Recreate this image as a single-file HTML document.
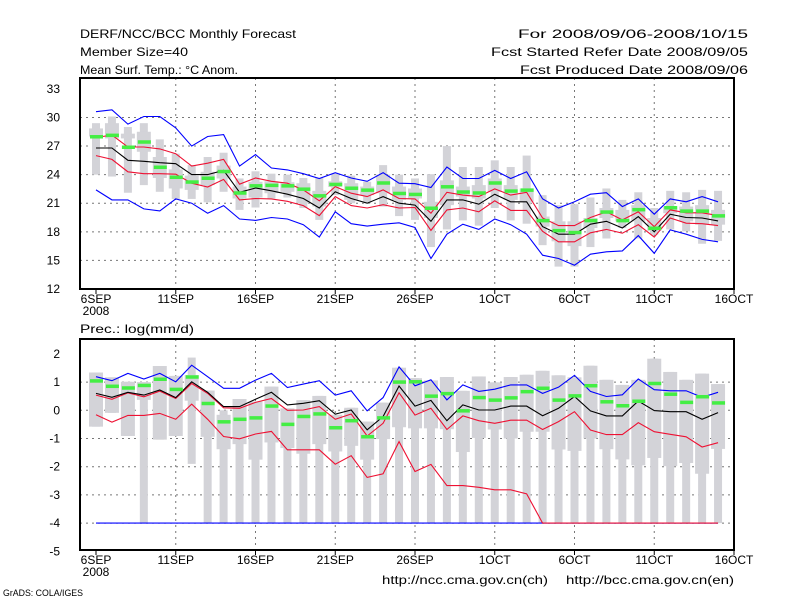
<!DOCTYPE html>
<html><head><meta charset="utf-8"><style>
body{margin:0;background:#fff;width:800px;height:600px;overflow:hidden}
svg text{font-family:"Liberation Sans",sans-serif;font-size:12px;fill:#000}
</style></head><body>
<svg id="chart" width="800" height="600" viewBox="0 0 800 600" xmlns="http://www.w3.org/2000/svg">
<rect width="800" height="600" fill="#fff"/>
<text x="80" y="38" textLength="216" lengthAdjust="spacingAndGlyphs">DERF/NCC/BCC Monthly Forecast</text>
<text x="80" y="56" textLength="108" lengthAdjust="spacingAndGlyphs">Member Size=40</text>
<text x="80" y="74" textLength="158" lengthAdjust="spacingAndGlyphs">Mean Surf. Temp.: °C Anom.</text>
<text x="748" y="38" text-anchor="end" textLength="230" lengthAdjust="spacingAndGlyphs">For 2008/09/06-2008/10/15</text>
<text x="748" y="56" text-anchor="end" textLength="257" lengthAdjust="spacingAndGlyphs">Fcst Started Refer Date 2008/09/05</text>
<text x="748" y="74" text-anchor="end" textLength="228" lengthAdjust="spacingAndGlyphs">Fcst Produced Date 2008/09/06</text>
<text x="80" y="333" textLength="114" lengthAdjust="spacingAndGlyphs">Prec.: log(mm/d)</text>
<text x="382" y="584" textLength="166" lengthAdjust="spacingAndGlyphs">http://ncc.cma.gov.cn(ch)</text>
<text x="566" y="584" textLength="168" lengthAdjust="spacingAndGlyphs">http://bcc.cma.gov.cn(en)</text>
<text x="3" y="596" style="font-size:9px" textLength="80" lengthAdjust="spacingAndGlyphs">GrADS: COLA/IGES</text>
<g id="top"></g><g id="bot"></g>
</svg>
<script>
const dayLabels=["6SEP","11SEP","16SEP","21SEP","26SEP","1OCT","6OCT","11OCT","16OCT"];
const tTicks=[12,15,18,21,24,27,30,33];
const pTicks=[-5,-4,-3,-2,-1,0,1,2];
const tBlueHi=[30.6,30.8,29.3,30.1,30.1,28.9,27.0,28.0,28.2,24.9,26.1,24.7,24.5,24.1,23.6,24.2,23.65,23.3,24.2,23.1,23.05,22.65,24.8,23.6,23.6,24.45,23.6,24.3,21.45,20.5,21.15,21.95,22.1,20.65,21.45,19.85,21.45,21.15,21.7,21.15];
const tBlueLo=[22.4,21.35,21.35,20.4,20.2,21.45,21,19.95,20.75,19.35,19.2,19.5,19.35,18.75,17.45,20.1,18.85,18.6,18.8,18.95,18.45,15.2,17.75,18.8,18.25,19.35,18.75,17.75,15.55,15.2,14.5,15.65,15.9,16,17.6,15.75,18.2,17.75,17.2,16.95];
const tRedHi=[27.9,28.15,26.9,26.9,26.7,26.2,24.9,25.2,25.6,23,23.65,23.3,23.1,22.4,21.25,22.75,22.05,21.7,22.4,21.5,21.45,19.95,22.15,21.85,21.7,22.5,21.85,22.15,19.45,18.65,18.65,19.5,20.1,19.25,20.1,18.55,20.3,20,20,19.7];
const tMean=[26.8,26.8,25.5,25.4,25.25,25.15,24,24,24.45,22.15,22.6,22.3,21.95,21.5,20.5,22.2,21.5,21,21.7,21,20.8,19.1,21.35,21.35,20.9,21.95,21.15,21.15,18.55,17.75,17.75,18.8,19.1,18.4,19.6,18,19.85,19.5,19.45,19.15];
const tRedLo=[26.0,25.6,24.3,24.1,24.1,24.05,23.1,22.7,23.5,21.35,21.5,21.45,21.2,20.75,19.7,21.7,20.75,20.5,20.85,20.5,20.55,18.15,20.3,20.5,20.1,21.25,20.25,20.25,18.05,16.95,16.95,17.9,18.25,17.85,18.75,17.45,19.45,18.9,18.85,18.65];
const tGreen=[28,28.15,26.9,27.45,24.8,23.75,23.25,23.65,24.35,22.1,22.85,22.9,22.85,22.5,21.8,23.0,22.6,22.4,23.15,22.05,21.95,20.5,22.75,22.2,22.1,23.15,22.3,22.4,19.2,18.15,17.95,19.2,20.1,19.2,20.35,18.4,20.55,20.2,20.2,19.7];
const tMax=[29.4,30.1,29,29.4,27.7,26.2,25,25.85,26.3,23.6,24.35,24.1,24,23.65,23.65,24.1,23.9,23.25,25,24,23.6,24.05,27,24.8,24.8,25.5,24.8,26,21.85,20.8,20.9,21.6,22.55,21.35,22.15,20.5,22.3,22.15,22.4,22.3];
const tMin=[24,23.8,22.1,22.9,22.2,21.45,21.45,21.1,22.2,20.3,20.55,21.5,21.6,20.5,19.25,21.85,21,21,20.65,19.65,19.25,16.4,18.25,19.2,18.65,20.5,19.2,18.85,16.6,14.35,14.35,16.4,17.3,18.4,17.3,17.7,18.25,18.05,16.75,17.05];
const tQ3=[28.85,29.4,28.3,28.5,25.85,24.55,23.9,24.3,24.95,22.75,23.25,23.3,23.2,23.1,22.3,23.3,23.1,22.75,24,22.75,22.55,21.15,23.4,22.75,22.9,23.6,22.9,22.55,19.6,19.1,19.1,19.45,20.5,20.3,20.8,19.45,20.65,20.65,20.8,20.3];
const tQ1=[28,27.8,27.8,26.4,23.65,22.55,22.4,22.9,23.6,21.5,21.6,22.05,22.2,21,20.65,22.7,21.35,21.85,22.05,21.35,21.5,19.45,20.8,21.7,21.5,22.2,21.35,21.15,18.55,17,16.5,18.4,19.45,19.1,19.1,18.1,19.95,19.1,18.75,18.75];
const pBlueHi=[1.19,1.05,1.31,1.11,1.31,1.01,1.6,1.19,0.78,0.78,1.07,1.31,0.81,0.93,1.05,0.54,0.69,-0.02,0.45,1.54,0.87,1.08,0.37,0.9,0.67,0.75,0.9,0.9,0.6,0.82,1.24,0.67,0.49,0.55,1.11,0.73,0.69,0.69,0.46,0.64];
const pBlueLo=[-4,-4,-4,-4,-4,-4,-4,-4,-4,-4,-4,-4,-4,-4,-4,-4,-4,-4,-4,-4,-4,-4,-4,-4,-4,-4,-4,-4,-4,-4,-4,-4,-4,-4,-4,-4,-4,-4,-4,-4];
const pMean=[0.6,0.46,0.64,0.54,0.72,0.45,1.01,0.64,0.13,0.13,0.39,0.64,0.19,0.25,0.34,-0.14,0.01,-0.69,-0.22,0.86,0.15,0.35,-0.37,0.19,0.01,0.01,0.15,0.15,-0.19,0.07,0.49,-0.02,-0.2,-0.2,0.33,-0.01,-0.05,-0.05,-0.32,-0.08];
const pRedHi=[0.54,0.39,0.62,0.48,0.68,0.42,0.95,0.6,0.09,0.07,0.28,0.42,0,0.01,0.13,-0.32,-0.13,-0.91,-0.46,0.62,-0.17,0.07,-0.68,-0.2,-0.37,-0.46,-0.35,-0.35,-0.68,-0.4,-0.05,-0.7,-0.86,-0.86,-0.44,-0.76,-0.85,-0.94,-1.3,-1.15];
const pRedLo=[-0.16,-0.42,-0.18,-0.18,-0.11,-0.32,0.22,-0.32,-0.93,-1.01,-0.84,-0.75,-1.4,-1.4,-1.4,-1.91,-1.61,-2.38,-2.25,-1.11,-2.17,-1.92,-2.67,-2.67,-2.73,-2.82,-2.82,-2.96,-4,-4,-4,-4,-4,-4,-4,-4,-4,-4,-4,-4];
const pGreen=[1.05,0.86,0.8,0.89,1.11,0.75,1.19,0.25,-0.4,-0.31,-0.26,0.16,-0.49,-0.21,-0.12,-0.61,-0.36,-0.93,-0.26,1.01,1.02,0.51,0.6,-0.01,0.46,0.37,0.45,0.67,0.79,0.37,0.52,0.88,0.31,0.17,0.33,0.96,0.58,0.29,0.49,0.27];
const pMax=[1.34,1.17,1.01,1.0,1.57,1.22,1.87,0.7,0.0,0.4,0.31,0.84,0.07,0.36,0.51,-0.16,0.09,-0.4,0.27,1.51,1.14,1.06,1.18,0.69,1.2,0.99,1.18,1.26,1.4,1.24,1.17,1.58,1.08,0.9,1.08,1.83,1.36,1.08,1.3,0.93];
const pMin=[-0.58,-0.09,-0.91,-4,-1.04,-0.91,-1.9,-4,-4,-4,-4,-4,-4,-4,-4,-4,-4,-4,-4,-4,-4,-4,-4,-4,-4,-4,-4,-4,-4,-4,-4,-4,-4,-4,-4,-4,-4,-4,-4,-4];
const pQ3=[1.34,1.17,1.01,1.0,1.57,1.22,1.25,0.7,-0.16,0.4,0.31,0.84,0.07,0.36,0.51,-0.16,0.09,-0.4,0.27,1.51,1.14,1.06,1.18,0.69,1.2,0.99,1.18,1.26,1.4,1.24,1.17,1.58,1.08,0.9,1.08,1.83,1.36,1.08,1.3,0.93];
const pQ1=[-0.58,-0.09,-0.91,0.37,-1.04,-0.91,0.34,-0.94,-1.38,-1.2,-1.75,-1.14,-1.34,-1.54,-1.2,-1.46,-1.26,-1.75,-1.02,-0.6,-0.64,-0.64,-0.67,-1.48,-0.98,-0.68,-1,-0.76,-0.76,-1.39,-1.44,-1,-1.38,-1.74,-1.95,-1.69,-1.98,-1.87,-2.25,-1.37];

const NS="http://www.w3.org/2000/svg";
const X0=96, DX=15.95;
function xd(i){return X0+DX*i;}
function mk(parent,tag,attrs){const e=document.createElementNS(NS,tag);for(const k in attrs)e.setAttribute(k,attrs[k]);parent.appendChild(e);return e;}

function panel(g,cfg){
  const y=v=>cfg.yb-(v-cfg.vmin)*cfg.k;
  // grid
  cfg.ticks.forEach(t=>{
    if(t!==cfg.ticks[0]&&t!==cfg.ticks[cfg.ticks.length-1]){
      const l=mk(g,'line',{x1:80,x2:734,y1:y(t),y2:y(t),stroke:'#777','stroke-dasharray':'2,4'});
      
      
    }
    const tx=mk(g,'text',{x:60,y:y(t)+4,'text-anchor':'end'});tx.textContent=t;
    
    
  });
  dayLabels.forEach((d,j)=>{
    const xx=xd(j*5);
    if(j>0&&j<8){
      const l=mk(g,'line',{x1:xx,x2:xx,y1:cfg.top,y2:cfg.bot,stroke:'#777','stroke-dasharray':'2,4'});
      
      
    }
    mk(g,'line',{x1:xx,x2:xx,y1:cfg.bot,y2:cfg.bot+5,stroke:'#000'});
    const tx=mk(g,'text',{x:xx,y:cfg.bot+14,'text-anchor':'middle'});tx.textContent=d;
    
    
  });
  const yr=mk(g,'text',{x:xd(0),y:cfg.bot+26,'text-anchor':'middle'});yr.textContent='2008';
  
  
  // boxes
  for(let i=0;i<40;i++){
    const xx=xd(i);
    const b=mk(g,'rect',{x:xx-4,width:8,y:y(cfg.max[i]),height:Math.max(1,y(cfg.min[i])-y(cfg.max[i])),fill:'#d3d3d8'});
    
    
    const q=mk(g,'rect',{x:xx-7,width:14,y:y(cfg.q3[i]),height:Math.max(1,y(cfg.q1[i])-y(cfg.q3[i])),fill:'#d3d3d8'});
    
    
  }
  const line=(arr,col,name)=>{
    const p=mk(g,'polyline',{points:arr.map((v,i)=>xd(i)+','+y(v).toFixed(1)).join(' '),fill:'none',stroke:col,'stroke-width':1.1});
    
    
  };
  line(cfg.bHi,'#0000ff','blue-upper-line');
  line(cfg.bLo,'#0000ff','blue-lower-line');
  line(cfg.rHi,'#ee1133','red-upper-line');
  line(cfg.rLo,'#ee1133','red-lower-line');
  line(cfg.mean,'#000','mean-line');
  for(let i=0;i<40;i++){
    const r=mk(g,'rect',{x:xd(i)-6,width:13,y:y(cfg.green[i])-1.5,height:3.5,fill:'#44ee44'});
    
    
  }
  const fr=mk(g,'rect',{x:80,y:cfg.top,width:654,height:cfg.bot-cfg.top,fill:'none',stroke:'#000','stroke-width':2});
  
  
}
panel(document.getElementById('top'),{vmin:12,k:9.53,yb:289,top:78,bot:289,ticks:tTicks,
  bHi:tBlueHi,bLo:tBlueLo,rHi:tRedHi,rLo:tRedLo,mean:tMean,green:tGreen,max:tMax,min:tMin,q3:tQ3,q1:tQ1});
panel(document.getElementById('bot'),{vmin:0,k:28.2,yb:410.3,top:339,bot:550,ticks:pTicks,
  bHi:pBlueHi,bLo:pBlueLo,rHi:pRedHi,rLo:pRedLo,mean:pMean,green:pGreen,max:pMax,min:pMin,q3:pQ3,q1:pQ1});
</script>
</body></html>
